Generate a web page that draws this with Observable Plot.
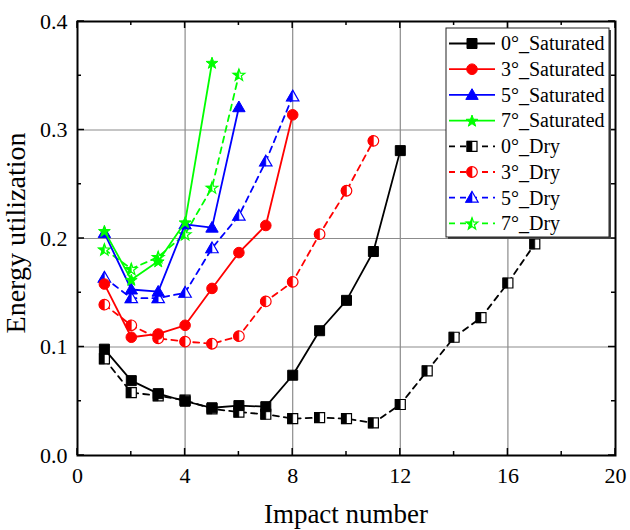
<!DOCTYPE html>
<html><head><meta charset="utf-8">
<script src="https://cdn.jsdelivr.net/npm/d3@7"></script>
<script src="https://cdn.jsdelivr.net/npm/@observablehq/plot@0.6"></script>
<style>body{margin:0;background:#fff}</style>
</head><body><div id="chart"></div>
<script>
// ---- data ----
const seriesNames = ["0°_Saturated","3°_Saturated","5°_Saturated","7°_Saturated","0°_Dry","3°_Dry","5°_Dry","7°_Dry"];
const seriesColors = ["#000000","#ff0000","#0000ff","#00ff00","#000000","#ff0000","#0000ff","#00ff00"];
const sat0 = [0.098,0.069,0.057,0.050,0.044,0.046,0.045,0.074,0.115,0.143,0.188,0.281];
const sat3 = [0.158,0.109,0.112,0.120,0.154,0.187,0.212,0.314];
const sat5 = [0.205,0.153,0.151,0.213,0.210,0.321];
const sat7 = [0.207,0.162,0.179,0.215,0.362];
const dry0 = [0.089,0.058,0.055,0.051,0.043,0.040,0.038,0.034,0.035,0.034,0.030,0.047,0.078,0.109,0.127,0.159,0.195];
const dry3 = [0.139,0.120,0.108,0.105,0.103,0.110,0.142,0.160,0.204,0.244,0.290];
const dry5 = [0.164,0.145,0.145,0.150,0.191,0.221,0.271,0.331];
const dry7 = [0.190,0.172,0.183,0.204,0.247,0.351];
const seriesValues = [sat0,sat3,sat5,sat7,dry0,dry3,dry5,dry7];
const xTicks = [0,4,8,12,16,20];
const yTicks = [0,0.1,0.2,0.3,0.4];
const xLabel = "Impact number";
const yLabel = "Energy utilization";
const FONT = "'Liberation Serif','Times New Roman',Times,serif";

// ---- symbols ----
const SQ = 5;
const squareFull = {draw(c){c.moveTo(-SQ,-SQ);c.lineTo(SQ,-SQ);c.lineTo(SQ,SQ);c.lineTo(-SQ,SQ);c.closePath();}};
const squareHalf = {draw(c){c.moveTo(-SQ,-SQ);c.lineTo(0,-SQ);c.lineTo(0,SQ);c.lineTo(-SQ,SQ);c.closePath();}};
const CR = 5.3;
const circleFull = {draw(c){c.moveTo(CR,0);c.arc(0,0,CR,0,2*Math.PI);c.closePath();}};
const circleHalf = {draw(c){c.moveTo(0,-CR);c.arc(0,0,CR,-Math.PI/2,Math.PI/2,true);c.closePath();}};
const TW = 6.2, TT = -6.2, TB = 4.5;
const triFull = {draw(c){c.moveTo(0,TT);c.lineTo(TW,TB);c.lineTo(-TW,TB);c.closePath();}};
const triHalf = {draw(c){c.moveTo(0,TT);c.lineTo(0,TB);c.lineTo(-TW,TB);c.closePath();}};
const SR = 6.2, SI = 2.5, SDY = 0.6;
function starPt(k){const a=(-90+36*k)*Math.PI/180;const r=k%2===0?SR:SI;return [r*Math.cos(a), r*Math.sin(a)+SDY];}
const starFull = {draw(c){for(let k=0;k<10;k++){const p=starPt(k); if(k===0)c.moveTo(p[0],p[1]); else c.lineTo(p[0],p[1]);} c.closePath();}};
const starHalf = {draw(c){const idx=[0,9,8,7,6,5]; idx.forEach((k,i)=>{const p=starPt(k); if(i===0)c.moveTo(p[0],p[1]); else c.lineTo(p[0],p[1]);}); c.closePath();}};
const fullSyms = [squareFull,circleFull,triFull,starFull];
const halfSyms = [squareHalf,circleHalf,triHalf,starHalf];

// ---- tidy table ----
const rows = [];
seriesValues.forEach((vals,s)=>vals.forEach((v,i)=>rows.push({series:seriesNames[s], s, impact:i+1, value:v})));

const marks = [
  Plot.gridX(xTicks.slice(1,-1), {stroke:"#8c8c8c", strokeOpacity:1, strokeWidth:1.2}),
  Plot.gridY(yTicks.slice(1,-1), {stroke:"#8c8c8c", strokeOpacity:1, strokeWidth:1.2}),
];
const order = [4,5,6,7,0,1,2,3];
for (const s of order) {
  const data = rows.filter(d=>d.s===s);
  const dry = s>=4;
  const col = seriesColors[s];
  marks.push(Plot.line(data, {x:"impact", y:"value", stroke:col, strokeWidth:1.8, strokeDasharray: dry ? "6,5" : null}));
  if (dry) {
    marks.push(Plot.dot(data, {x:"impact", y:"value", r:5, symbol:fullSyms[s-4], fill:"white", stroke:col, strokeWidth:1.2}));
    marks.push(Plot.dot(data, {x:"impact", y:"value", r:5, symbol:halfSyms[s-4], fill:col, stroke:col, strokeWidth:0.6}));
  } else {
    marks.push(Plot.dot(data, {x:"impact", y:"value", r:5, symbol:fullSyms[s], fill:col, stroke:col, strokeWidth:1}));
  }
}
marks.push(Plot.axisX(xTicks, {tickSize:0, tickPadding:12, fontSize:22, fontFamily:FONT, label:null}));
marks.push(Plot.axisY(yTicks, {tickSize:0, tickPadding:10, fontSize:22, fontFamily:FONT, label:null, tickFormat:d3.format(".1f")}));
marks.push(Plot.frame({stroke:"black", strokeWidth:2}));

const chart = Plot.plot({
  width:630, height:530,
  marginLeft:77, marginRight:15, marginTop:21, marginBottom:75,
  style:{fontFamily:FONT, background:"white", color:"black"},
  x:{domain:[0,20]},
  y:{domain:[0,0.4]},
  marks
});
document.getElementById("chart").appendChild(chart);

// ---- inward ticks on all sides ----
const sx = chart.scale("x"), sy = chart.scale("y");
const X0 = sx.apply(0), X1 = sx.apply(20), Y0 = sy.apply(0), Y1 = sy.apply(0.4);
const svg = d3.select(chart);
const tg = svg.append("g").attr("stroke","black").attr("stroke-width",1.5);
d3.range(0,20.001,2).forEach((v)=>{
  const L = (Math.round(v)%4===0)?7:4, px = sx.apply(v);
  tg.append("line").attr("x1",px).attr("x2",px).attr("y1",Y0).attr("y2",Y0-L);
  tg.append("line").attr("x1",px).attr("x2",px).attr("y1",Y1).attr("y2",Y1+L);
});
d3.range(0,0.4001,0.05).forEach((v,i)=>{
  const L = (i%2===0)?7:4, py = sy.apply(v);
  tg.append("line").attr("y1",py).attr("y2",py).attr("x1",X0).attr("x2",X0+L);
  tg.append("line").attr("y1",py).attr("y2",py).attr("x1",X1).attr("x2",X1-L);
});

// ---- axis titles ----
svg.append("text").attr("x",(X0+X1)/2).attr("y",523).attr("text-anchor","middle")
  .attr("font-family",FONT).attr("font-size",27).attr("fill","black").text(xLabel);
svg.append("text").attr("transform",`translate(25,233) rotate(-90)`).attr("text-anchor","middle")
  .attr("font-family",FONT).attr("font-size",28).attr("fill","black").text(yLabel);

// ---- legend ----
const lg = svg.append("g");
const LX = 446, LY = 28, LW = 163, LH = 209;
lg.append("rect").attr("x",LX+2).attr("y",LY+2).attr("width",LW).attr("height",LH).attr("fill","#444");
lg.append("rect").attr("x",LX).attr("y",LY).attr("width",LW).attr("height",LH).attr("fill","white").attr("stroke","#222").attr("stroke-width",1);
seriesNames.forEach((name,s)=>{
  const y = 43.5 + s*25.7;
  const col = seriesColors[s], dry = s>=4;
  lg.append("line").attr("x1",449).attr("x2",495).attr("y1",y).attr("y2",y)
    .attr("stroke",col).attr("stroke-width",1.8).attr("stroke-dasharray",dry?"6,5":null);
  const k = dry ? s-4 : s;
  if (dry) {
    lg.append("path").attr("transform",`translate(472,${y})`).attr("d",d3.symbol(fullSyms[k])()).attr("fill","white").attr("stroke",col).attr("stroke-width",1.2);
    lg.append("path").attr("transform",`translate(472,${y})`).attr("d",d3.symbol(halfSyms[k])()).attr("fill",col).attr("stroke",col).attr("stroke-width",0.6);
  } else {
    lg.append("path").attr("transform",`translate(472,${y})`).attr("d",d3.symbol(fullSyms[k])()).attr("fill",col).attr("stroke",col).attr("stroke-width",1);
  }
  lg.append("text").attr("x",501).attr("y",y+6.8).attr("text-anchor","start")
    .attr("font-family",FONT).attr("font-size",20).attr("fill","black").text(name);
});
</script>
</body></html>
